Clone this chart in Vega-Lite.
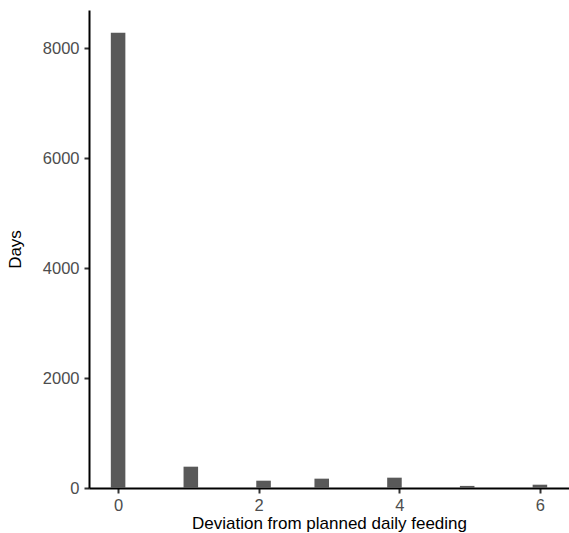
{
  "$schema": "https://vega.github.io/schema/vega-lite/v6.json",
  "width": 480,
  "height": 478,
  "autosize": {"type": "none"},
  "padding": {"left": 89, "top": 10, "right": 0, "bottom": 45},
  "background": "white",
  "config": {
    "view": {"stroke": null},
    "font": "Liberation Sans",
    "axis": {
      "grid": false,
      "domainColor": "black",
      "domainWidth": 2,
      "tickColor": "#333333",
      "tickWidth": 2,
      "tickSize": 5,
      "labelColor": "#4d4d4d",
      "labelFontSize": 16.5,
      "labelFont": "Liberation Sans",
      "titleFont": "Liberation Sans",
      "titleFontSize": 17,
      "titleFontWeight": "normal",
      "titleColor": "black"
    }
  },
  "data": {
    "values": [
      {"bin_start": -0.1034, "bin_end": 0.1034, "days": 8287},
      {"bin_start": 0.9310, "bin_end": 1.1379, "days": 388},
      {"bin_start": 1.9655, "bin_end": 2.1724, "days": 133},
      {"bin_start": 2.7931, "bin_end": 3.0000, "days": 170},
      {"bin_start": 3.8276, "bin_end": 4.0345, "days": 188},
      {"bin_start": 4.8621, "bin_end": 5.0690, "days": 38},
      {"bin_start": 5.8966, "bin_end": 6.1034, "days": 60}
    ]
  },
  "mark": {"type": "bar", "color": "#595959"},
  "encoding": {
    "x": {
      "field": "bin_start",
      "type": "quantitative",
      "scale": {"domain": [-0.4138, 6.4138], "nice": false, "zero": false},
      "axis": {"values": [0, 2, 4, 6], "title": "Deviation from planned daily feeding", "labelPadding": 4, "titlePadding": 2, "format": "d"}
    },
    "x2": {"field": "bin_end"},
    "y": {
      "field": "days",
      "type": "quantitative",
      "scale": {"domain": [0, 8700], "nice": false},
      "axis": {"values": [0, 2000, 4000, 6000, 8000], "title": "Days", "labelPadding": 5, "titlePadding": 18, "format": "d"}
    },
    "y2": {"datum": 0}
  }
}
